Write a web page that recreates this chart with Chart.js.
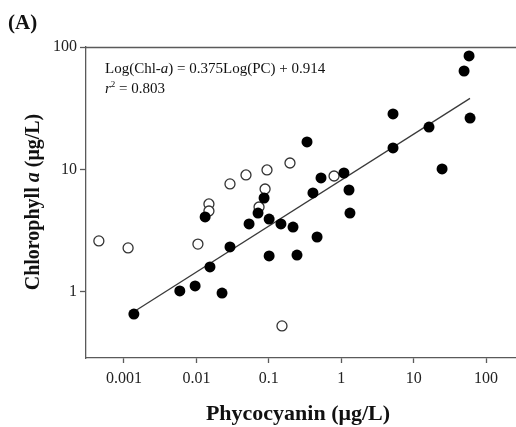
<!DOCTYPE html>
<html>
<head>
<meta charset="utf-8">
<script src="https://cdn.jsdelivr.net/npm/chart.js@4"></script>
<style>
  body { margin: 0; background: #fff; }
  canvas { display: block; }
</style>
</head>
<body>
<canvas id="scatter" width="516" height="427"></canvas>
<script>
// tick positions and labels
const xTicks = [0.001, 0.01, 0.1, 1, 10, 100];
const xTickLabels = ['0.001', '0.01', '0.1', '1', '10', '100'];
const yTicks = [1, 10, 100];
const yTickLabels = ['1', '10', '100'];

// filled circles (PC, Chl-a)
const filledPC = [0.00137, 0.0059, 0.0096, 0.0132, 0.0154, 0.0226, 0.0291, 0.0534, 0.071, 0.086,
    0.101, 0.101, 0.147, 0.216, 0.245, 0.337, 0.407, 0.464, 0.526, 1.09,
    1.28, 1.32, 5.19, 5.19, 16.3, 24.7, 49.7, 58.2, 60.1];
const filledChl = [0.66, 1.02, 1.12, 4.1, 1.6, 0.98, 2.33, 3.59, 4.41, 5.85,
    3.94, 1.97, 3.59, 3.39, 2.0, 16.8, 6.43, 2.81, 8.53, 9.36,
    6.8, 4.41, 28.4, 15.0, 22.2, 10.1, 63.7, 84.5, 26.3];

// open circles (PC, Chl-a)
const openPC = [0.00045, 0.00114, 0.0105, 0.0149, 0.0149, 0.0291, 0.0484, 0.0888, 0.0733, 0.0944,
    0.196, 0.796, 0.152];
const openChl = [2.61, 2.29, 2.46, 5.23, 4.58, 7.62, 9.02, 6.93, 4.94, 9.91,
    11.3, 8.85, 0.528];

// regression line end points
const fitPC = [0.00137, 60];
const fitChl = [0.69, 38.1];

const serif = "'Liberation Serif', 'DejaVu Serif', serif";
const axisGray = '#5a5a5a';

const toPoints = (xs, ys) => xs.map((x, i) => ({ x, y: ys[i] }));

// draws a run of text pieces with their own fonts
const drawRich = (ctx, x, y, parts) => {
    let cx = x;
    parts.forEach(p => {
        ctx.font = p.font;
        ctx.fillText(p.text, cx, y + (p.dy || 0));
        cx += ctx.measureText(p.text).width;
    });
};

const richWidth = (ctx, parts) => parts.reduce((w, p) => {
    ctx.font = p.font;
    return w + ctx.measureText(p.text).width;
}, 0);

const textPlugin = {
    id: 'texts',
    afterDraw(chart) {
        const ctx = chart.ctx;
        const area = chart.chartArea;
        ctx.save();

        // top frame line
        ctx.strokeStyle = axisGray;
        ctx.lineWidth = 1.3;
        ctx.beginPath();
        ctx.moveTo(area.left, area.top + 0.5);
        ctx.lineTo(area.right, area.top + 0.5);
        ctx.stroke();

        ctx.fillStyle = '#111';
        ctx.textBaseline = 'alphabetic';

        drawRich(ctx, 8, 29, [{ text: '(A)', font: `bold 21px ${serif}` }]);

        const eqFont = `15px ${serif}`;
        const eqItalic = `italic 15px ${serif}`;
        drawRich(ctx, 105, 73, [
            { text: 'Log(Chl-', font: eqFont },
            { text: 'a', font: eqItalic },
            { text: ') = 0.375Log(PC) + 0.914', font: eqFont },
        ]);
        drawRich(ctx, 105, 93, [
            { text: 'r', font: eqItalic },
            { text: '2', font: `9px ${serif}`, dy: -6 },
            { text: ' = 0.803', font: eqFont },
        ]);

        // x axis title
        const xParts = [{ text: 'Phycocyanin (μg/L)', font: `bold 22px ${serif}` }];
        const xw = richWidth(ctx, xParts);
        drawRich(ctx, 298 - xw / 2, 420, xParts);

        // y axis title, rotated
        const yParts = [
            { text: 'Chlorophyll ', font: `bold 20px ${serif}` },
            { text: 'a', font: `bold italic 20px ${serif}` },
            { text: ' (μg/L)', font: `bold 20px ${serif}` },
        ];
        const yw = richWidth(ctx, yParts);
        ctx.translate(39, 202);
        ctx.rotate(-Math.PI / 2);
        drawRich(ctx, -yw / 2, 0, yParts);

        ctx.restore();
    }
};

const config = {
    type: 'scatter',
    data: {
        datasets: [
            {
                type: 'line',
                label: 'fit',
                data: toPoints(fitPC, fitChl),
                borderColor: '#3a3a3a',
                borderWidth: 1.3,
                pointRadius: 0,
                fill: false,
                order: 3,
            },
            {
                label: 'filled',
                data: toPoints(filledPC, filledChl),
                backgroundColor: '#000',
                borderColor: '#000',
                borderWidth: 0,
                pointRadius: 5.5,
                order: 1,
            },
            {
                label: 'open',
                data: toPoints(openPC, openChl),
                backgroundColor: '#fff',
                borderColor: '#333',
                borderWidth: 1.3,
                pointRadius: 5,
                order: 2,
            },
        ]
    },
    options: {
        responsive: false,
        animation: false,
        devicePixelRatio: 1,
        layout: {
            autoPadding: false,
            padding: { top: 47, right: 0, left: 0, bottom: 0 },
        },
        plugins: {
            legend: { display: false },
            tooltip: { enabled: false },
        },
        scales: {
            x: {
                type: 'logarithmic',
                min: 0.000299,
                max: 259,
                afterBuildTicks: (axis) => { axis.ticks = xTicks.map(v => ({ value: v })); },
                afterFit: (axis) => {
                    axis.height = 69;
                    axis.paddingLeft = 0;
                    axis.paddingRight = 0;
                },
                ticks: {
                    callback: (v) => xTickLabels[xTicks.indexOf(v)],
                    font: { family: serif, size: 16 },
                    color: '#222',
                    padding: 6,
                    maxRotation: 0,
                    autoSkip: false,
                },
                grid: {
                    drawOnChartArea: false,
                    tickLength: 5,
                    tickWidth: 1.3,
                    color: axisGray,
                },
                border: { color: axisGray, width: 1.3 },
            },
            y: {
                type: 'logarithmic',
                min: 0.289,
                max: 100,
                afterBuildTicks: (axis) => { axis.ticks = yTicks.map(v => ({ value: v })); },
                afterFit: (axis) => {
                    axis.width = 86;
                    axis.paddingTop = 0;
                    axis.paddingBottom = 0;
                },
                ticks: {
                    callback: (v) => yTickLabels[yTicks.indexOf(v)],
                    font: { family: serif, size: 16 },
                    color: '#222',
                    padding: 3,
                    autoSkip: false,
                },
                grid: {
                    drawOnChartArea: false,
                    tickLength: 6,
                    tickWidth: 1.3,
                    color: axisGray,
                },
                border: { color: axisGray, width: 1.3 },
            }
        }
    },
    plugins: [textPlugin],
};

new Chart(document.getElementById('scatter'), config);
</script>
</body>
</html>
